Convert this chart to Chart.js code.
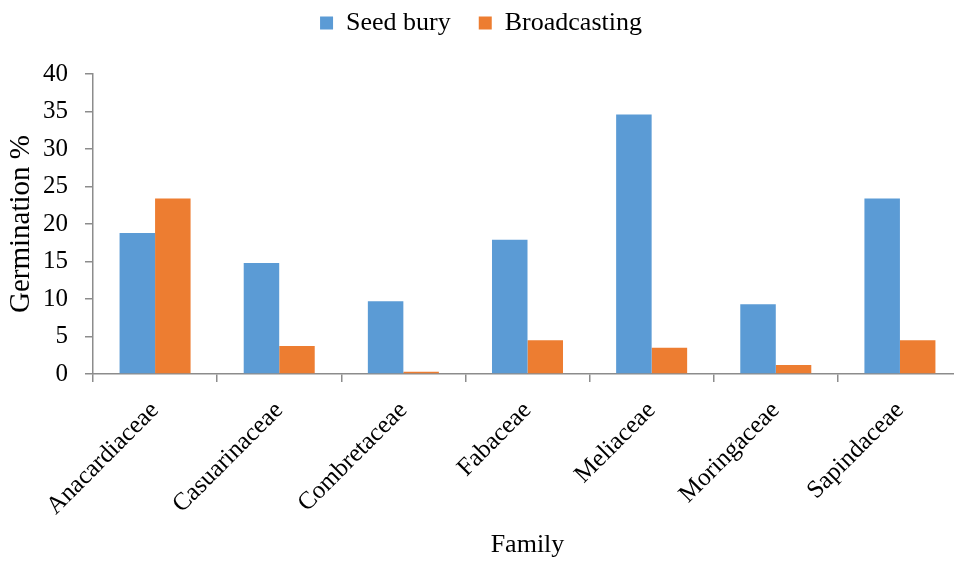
<!DOCTYPE html>
<html>
<head>
<meta charset="utf-8">
<script src="https://cdn.jsdelivr.net/npm/chart.js@4.4.1/dist/chart.umd.min.js"></script>
<style>
  html, body { margin: 0; padding: 0; background: #fff; overflow: hidden; }
  #wrap { width: 954px; height: 561px; overflow: hidden; }
  canvas { display: block; }
</style>
</head>
<body>
<div id="wrap"><canvas id="c" width="966" height="561"></canvas></div>
<script>
// Germination percentage by plant family for two sowing methods
const families = ['Anacardiaceae', 'Casuarinaceae', 'Combretaceae', 'Fabaceae', 'Meliaceae', 'Moringaceae', 'Sapindaceae'];
const seedBury = [18.8, 14.8, 9.7, 17.9, 34.6, 9.3, 23.4];
const broadcasting = [23.4, 3.75, 0.3, 4.5, 3.5, 1.2, 4.5];
const yTicks = [0, 5, 10, 15, 20, 25, 30, 35, 40];

const axisGrey = '#8c8c8c';
const serif = '"Liberation Serif", "Times New Roman", serif';
const legendGap = 28;

// Reserve space above the plot area beneath the legend row,
// and keep the wide item gap from pushing the row downwards
const legendSpacer = {
  id: 'legendSpacer',
  beforeInit(chart) {
    const fit = chart.legend.fit;
    chart.legend.fit = function () {
      fit.bind(chart.legend)();
      this.height = 74;
    };
  },
  afterLayout(chart) {
    chart.legend.top -= (legendGap - 10);
  }
};

new Chart(document.getElementById('c'), {
  type: 'bar',
  data: {
    labels: families,
    datasets: [
      { label: 'Seed bury', data: seedBury, backgroundColor: '#5B9BD5' },
      { label: 'Broadcasting', data: broadcasting, backgroundColor: '#ED7D31' }
    ]
  },
  plugins: [legendSpacer],
  options: {
    responsive: false,
    animation: false,
    layout: { padding: { left: 0, right: 4, top: 0, bottom: 0 } },
    datasets: { bar: { categoryPercentage: 0.572, barPercentage: 1.0 } },
    plugins: {
      legend: {
        position: 'top',
        labels: {
          boxWidth: 13,
          boxHeight: 13,
          padding: legendGap,
          color: '#000',
          font: { family: serif, size: 26 }
        }
      },
      tooltip: { enabled: false }
    },
    scales: {
      x: {
        offset: true,
        border: { display: true, color: axisGrey, width: 1.5 },
        grid: {
          offset: true,
          drawOnChartArea: false,
          drawTicks: true,
          tickLength: 8,
          color: axisGrey,
          lineWidth: 1.5
        },
        ticks: {
          color: '#000',
          font: { family: serif, size: 25 },
          minRotation: 45,
          maxRotation: 45,
          padding: 14,
          autoSkip: false
        },
        title: {
          display: true,
          text: 'Family',
          color: '#000',
          font: { family: serif, size: 26 },
          padding: { top: 0, bottom: 0 }
        },
        afterFit(scale) { scale.height = 187; }
      },
      y: {
        min: 0,
        max: 40,
        afterBuildTicks(scale) { scale.ticks = yTicks.map(v => ({ value: v })); },
        border: { display: true, color: axisGrey, width: 1.5 },
        grid: {
          drawOnChartArea: false,
          drawTicks: true,
          tickLength: 8,
          color: axisGrey,
          lineWidth: 1.5
        },
        ticks: {
          color: '#000',
          font: { family: serif, size: 25 },
          padding: 17
        },
        title: {
          display: true,
          text: 'Germination %',
          color: '#000',
          font: { family: serif, size: 29 },
          padding: { top: 4, bottom: 0 }
        },
        afterFit(scale) { scale.width = 93; }
      }
    }
  }
});
</script>
</body>
</html>
